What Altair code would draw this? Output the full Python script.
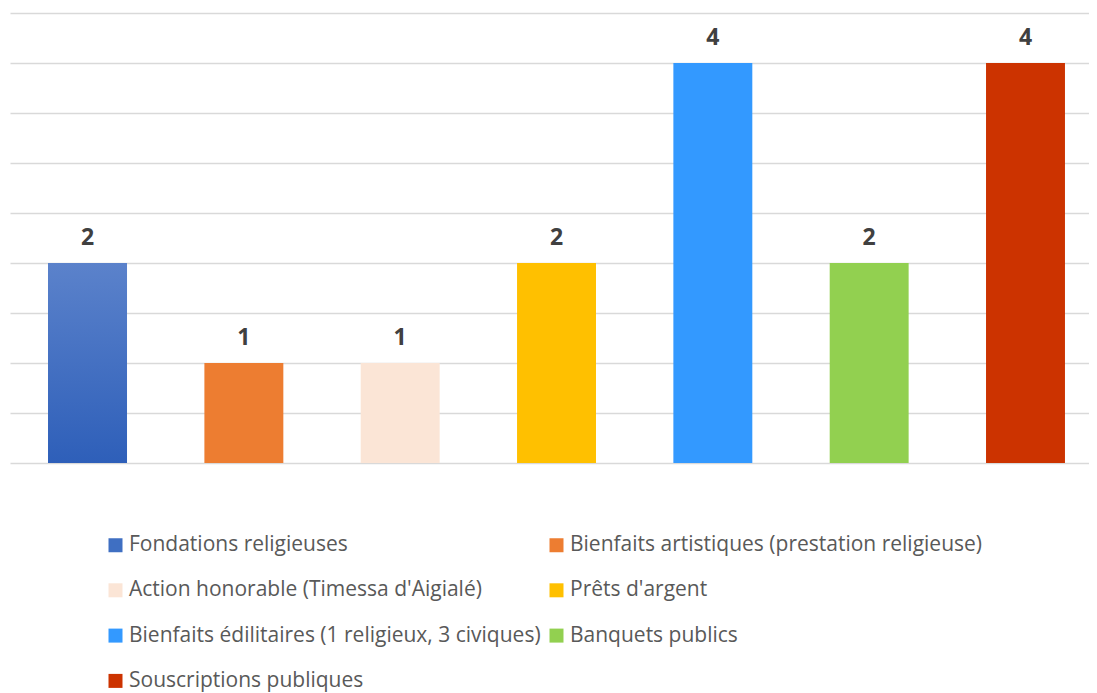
import altair as alt
import pandas as pd

categories = [
    "Fondations religieuses",
    "Bienfaits artistiques (prestation religieuse)",
    "Action honorable (Timessa d'Aigialé)",
    "Prêts d'argent",
    "Bienfaits édilitaires (1 religieux, 3 civiques)",
    "Banquets publics",
    "Souscriptions publiques",
]
values = [2, 1, 1, 2, 4, 2, 4]
colors = ["#3f6fc2", "#ed7d31", "#fbe5d6", "#ffc000", "#3399ff", "#92d050", "#cc3300"]
grid_values = [0, 0.5, 1, 1.5, 2, 2.5, 3, 3.5, 4, 4.5]

df = pd.DataFrame({"category": categories, "value": values})

FONT = "Open Sans"

x = alt.X(
    "category:N",
    sort=categories,
    axis=None,
    scale=alt.Scale(paddingInner=0.495, paddingOuter=0.1986, align=0.613),
)
y = alt.Y(
    "value:Q",
    scale=alt.Scale(domain=[0, 4.5], nice=False),
    axis=alt.Axis(
        values=grid_values,
        labels=False,
        ticks=False,
        domain=False,
        grid=True,
        gridColor="#d9d9d9",
        gridWidth=1.3,
        title=None,
    ),
)

base = alt.Chart(df)

bars = base.mark_bar().encode(
    x=x,
    y=y,
    color=alt.Color(
        "category:N",
        sort=categories,
        scale=alt.Scale(domain=categories, range=colors),
        legend=alt.Legend(
            orient="none",
            legendX=95,
            legendY=521.5,
            columns=2,
            direction="horizontal",
            title=None,
            padding=0,
            symbolType="square",
            symbolSize=196,
            symbolStrokeWidth=0,
            labelFontSize=21,
            labelFont=FONT,
            labelColor="#595959",
            labelOffset=3,
            rowPadding=23.3,
            columnPadding=5,
            labelLimit=0,
        ),
    ),
)

grad_bar = (
    base.transform_filter(alt.datum.category == categories[0])
    .mark_bar(
        color=alt.Gradient(
            gradient="linear",
            stops=[
                alt.GradientStop(color="#5b82cb", offset=0),
                alt.GradientStop(color="#2e5fb9", offset=1),
            ],
            x1=0, x2=0, y1=0, y2=1,
        )
    )
    .encode(x=x, y=y)
)

labels = base.mark_text(
    dy=-18,
    baseline="alphabetic",
    fontSize=23,
    fontWeight="bold",
    color="#404040",
    font=FONT,
).encode(x=x, y=y, text=alt.Text("value:Q"))

chart = (
    alt.layer(bars, grad_bar, labels)
    .properties(
        width=1079,
        height=450,
        autosize=alt.AutoSizeParams(type="none"),
        padding={"left": 2, "top": 5, "right": 0, "bottom": 230},
    )
    .configure_view(stroke=None)
)

chart.save("out.html", embed_options={"renderer": "svg", "actions": False})
